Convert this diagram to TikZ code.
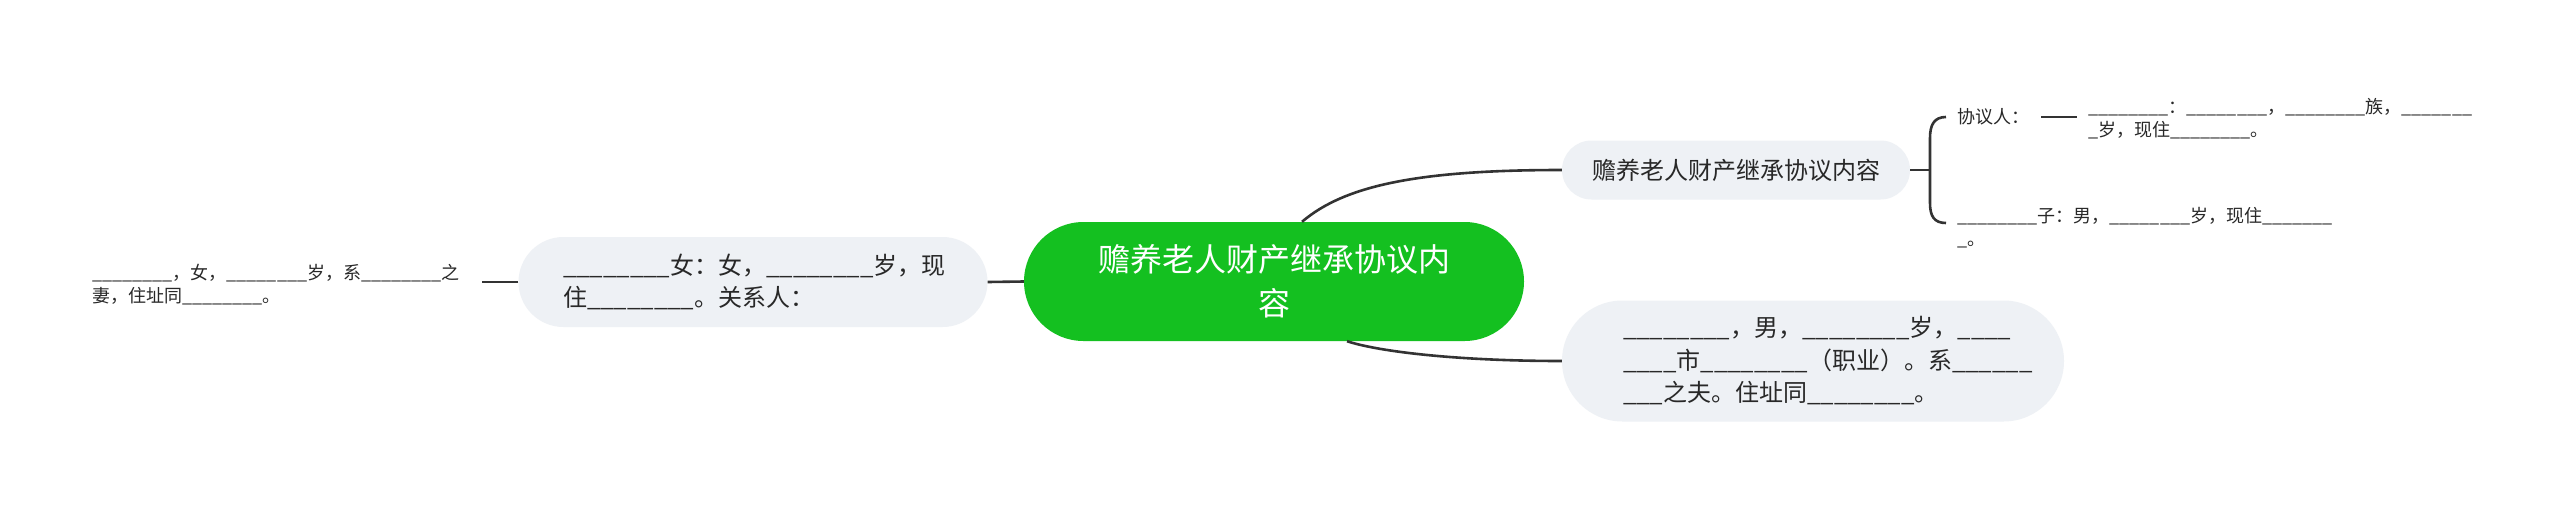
\documentclass[tikz,border=0pt]{standalone}
\usepackage{fontspec}
\setmainfont{Noto Sans CJK SC}
\definecolor{mgreen}{RGB}{20,192,32}
\definecolor{pill}{RGB}{238,241,245}
\definecolor{ink}{RGB}{40,40,40}
\definecolor{wirec}{RGB}{51,51,51}
\newcommand\blanks[1]{\begingroup\count255=0 \loop\ifnum\count255<#1 \_\advance\count255 by 1 \repeat\endgroup}
\begin{document}
\begin{tikzpicture}[x=1pt,y=-1pt,
  wire/.style={draw=wirec,line width=2.6pt},
  rootbox/.style={fill=mgreen,rounded corners=59.5pt,minimum width=500pt,minimum height=119pt,inner sep=0pt,text=white,font=\fontsize{32}{44}\selectfont,align=center},
  subbox/.style={fill=pill,inner sep=0pt,text=ink,font=\fontsize{24}{32.5}\selectfont},
  leaf/.style={inner sep=0pt,text=ink,font=\fontsize{18}{23}\selectfont,align=left,anchor=west}]
\useasboundingbox (0,0) rectangle (2560,504);
\fill[white] (0,0) rectangle (2560,504);

\node[rootbox] (root) at (1274,281.5) {赡养老人财产继承协议内\\容};
\node[subbox,rounded corners=29.5pt,minimum width=348pt,minimum height=59pt] (rt) at (1736,170) {赡养老人财产继承协议内容};
\node[subbox,rounded corners=60.5pt,minimum width=502pt,minimum height=121pt,text width=380pt,align=left] (rb) at (1813,361)
  {\blanks{8}，男，\blanks{8}岁，\blanks{4}\\\blanks{4}市\blanks{8}（职业）。系\blanks{6}\\\blanks{3}之夫。住址同\blanks{8}。};
\node[subbox,rounded corners=45pt,minimum width=469pt,minimum height=90pt,text width=380pt,align=left] (lf) at (753,282)
  {\blanks{8}女：女，\blanks{8}岁，现\\住\blanks{8}。关系人：};

\node[leaf,text width=390pt] (ll) at (92,285) {\blanks{8}，女，\blanks{8}岁，系\blanks{8}之\\妻，住址同\blanks{8}。};
\node[leaf] (xyr) at (1957,117) {协议人：};
\node[leaf,text width=430pt] (xyt) at (2088,119) {\blanks{8}：\blanks{8}，\blanks{8}族，\blanks{7}\\\_岁，现住\blanks{8}。};
\node[leaf,text width=430pt] (zi) at (1957,228) {\blanks{8}子：男，\blanks{8}岁，现住\blanks{7}\\\_。};

\draw[wire] (root.west) -- (lf.east);
\draw[wire] (lf.west) -- (lf.west -| ll.east);
\draw[wire] ([xshift=28pt]root.north) .. controls (1345,185) and (1420,170) .. (rt.west);
\draw[wire] ([xshift=73pt]root.south) .. controls (1380,352) and (1460,361) .. (rb.west);
\draw[wire] (rt.east) -- (1930,170);
\draw[wire] ([xshift=-11pt]xyr.west) .. controls (1934,117) and (1930,125) .. (1930,138) -- (1930,203) .. controls (1930,216) and (1934,223) .. (1946,223);
\draw[wire,shorten <=12pt,shorten >=11pt] (xyr.east) -- (xyr.east -| xyt.west);
\end{tikzpicture}
\end{document}
